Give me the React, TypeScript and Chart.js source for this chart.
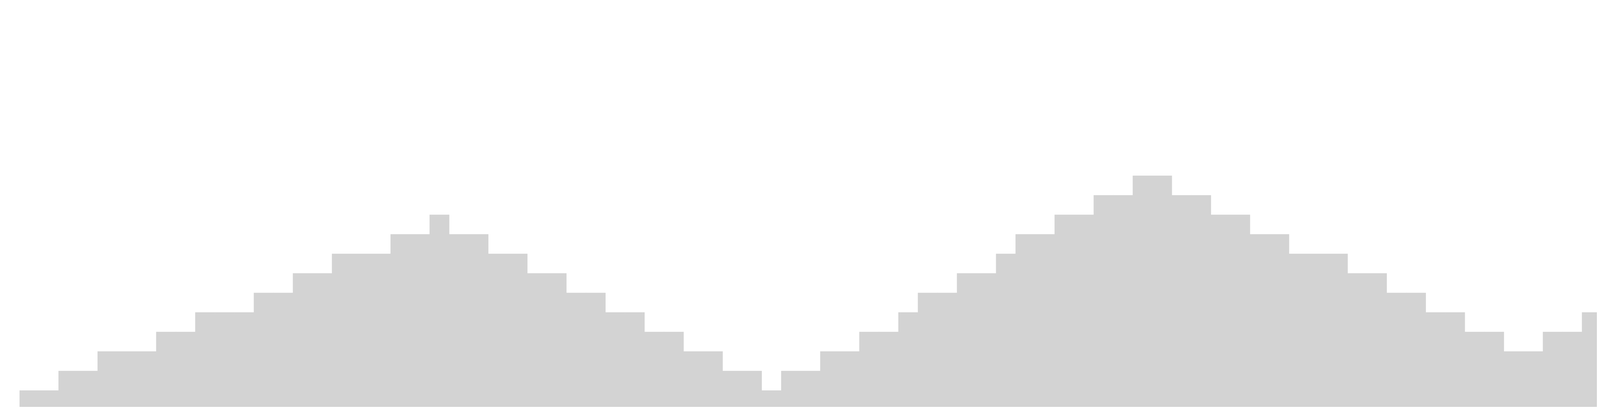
import { useEffect, useRef } from "react"
import { Chart, registerables } from "chart.js"

Chart.register(...registerables)

// bin heights (one value per 50px column)
const hump1 = [1, 1, 2, 2, 3, 3, 3, 4, 4, 5, 5, 5, 6, 6, 7, 7, 8, 8, 8, 9, 9, 10, 9, 9, 8, 8, 7, 7, 6, 6, 5, 5, 4, 4, 3, 3, 2, 2, 1]
const hump2 = [2, 2, 3, 3, 4, 4, 5, 6, 6, 7, 7, 8, 9, 9, 10, 10, 11, 11, 12, 12, 11, 11, 10, 10, 9, 9, 8, 8, 8, 7, 7, 6, 6, 5, 5, 4, 4, 3, 3]
const hump3 = [4, 4, 5, 5, 6, 7, 7, 8, 8, 9, 9, 10, 11, 11, 12, 12, 12, 12, 11, 11, 10, 10, 9, 9, 8, 8, 7, 7, 6, 6, 5, 5, 4, 4, 3, 2, 1]

const counts = [...hump1, ...hump2, ...hump3]
const bins = counts.map((_, i) => String(i))

const yMax = 20

export default function App() {
  const chartRef = useRef<HTMLCanvasElement>(null)
  const chartInstance = useRef<Chart | null>(null)

  useEffect(() => {
    if (!chartRef.current) return
    if (chartInstance.current) chartInstance.current.destroy()
    const ctx = chartRef.current.getContext("2d")
    if (!ctx) return

    chartInstance.current = new Chart(ctx, {
      type: "bar",
      data: {
        labels: bins,
        datasets: [
          {
            data: counts,
            backgroundColor: "#d3d3d3",
            borderWidth: 0,
            barPercentage: 1,
            categoryPercentage: 1,
          },
        ],
      },
      options: {
        animation: false,
        responsive: true,
        maintainAspectRatio: false,
        devicePixelRatio: 1,
        layout: { padding: { left: 42, right: 142, top: 42, bottom: 0 } },
        scales: {
          x: { display: false },
          y: { display: false, min: 0, max: yMax },
        },
        plugins: {
          legend: { display: false },
          tooltip: { enabled: false },
        },
      },
    })

    return () => {
      if (chartInstance.current) {
        chartInstance.current.destroy()
        chartInstance.current = null
      }
    }
  }, [])

  return (
    <div style={{ position: "relative", width: 5934, height: 1042, marginBottom: -8 }}>
      <canvas ref={chartRef} />
    </div>
  )
}
